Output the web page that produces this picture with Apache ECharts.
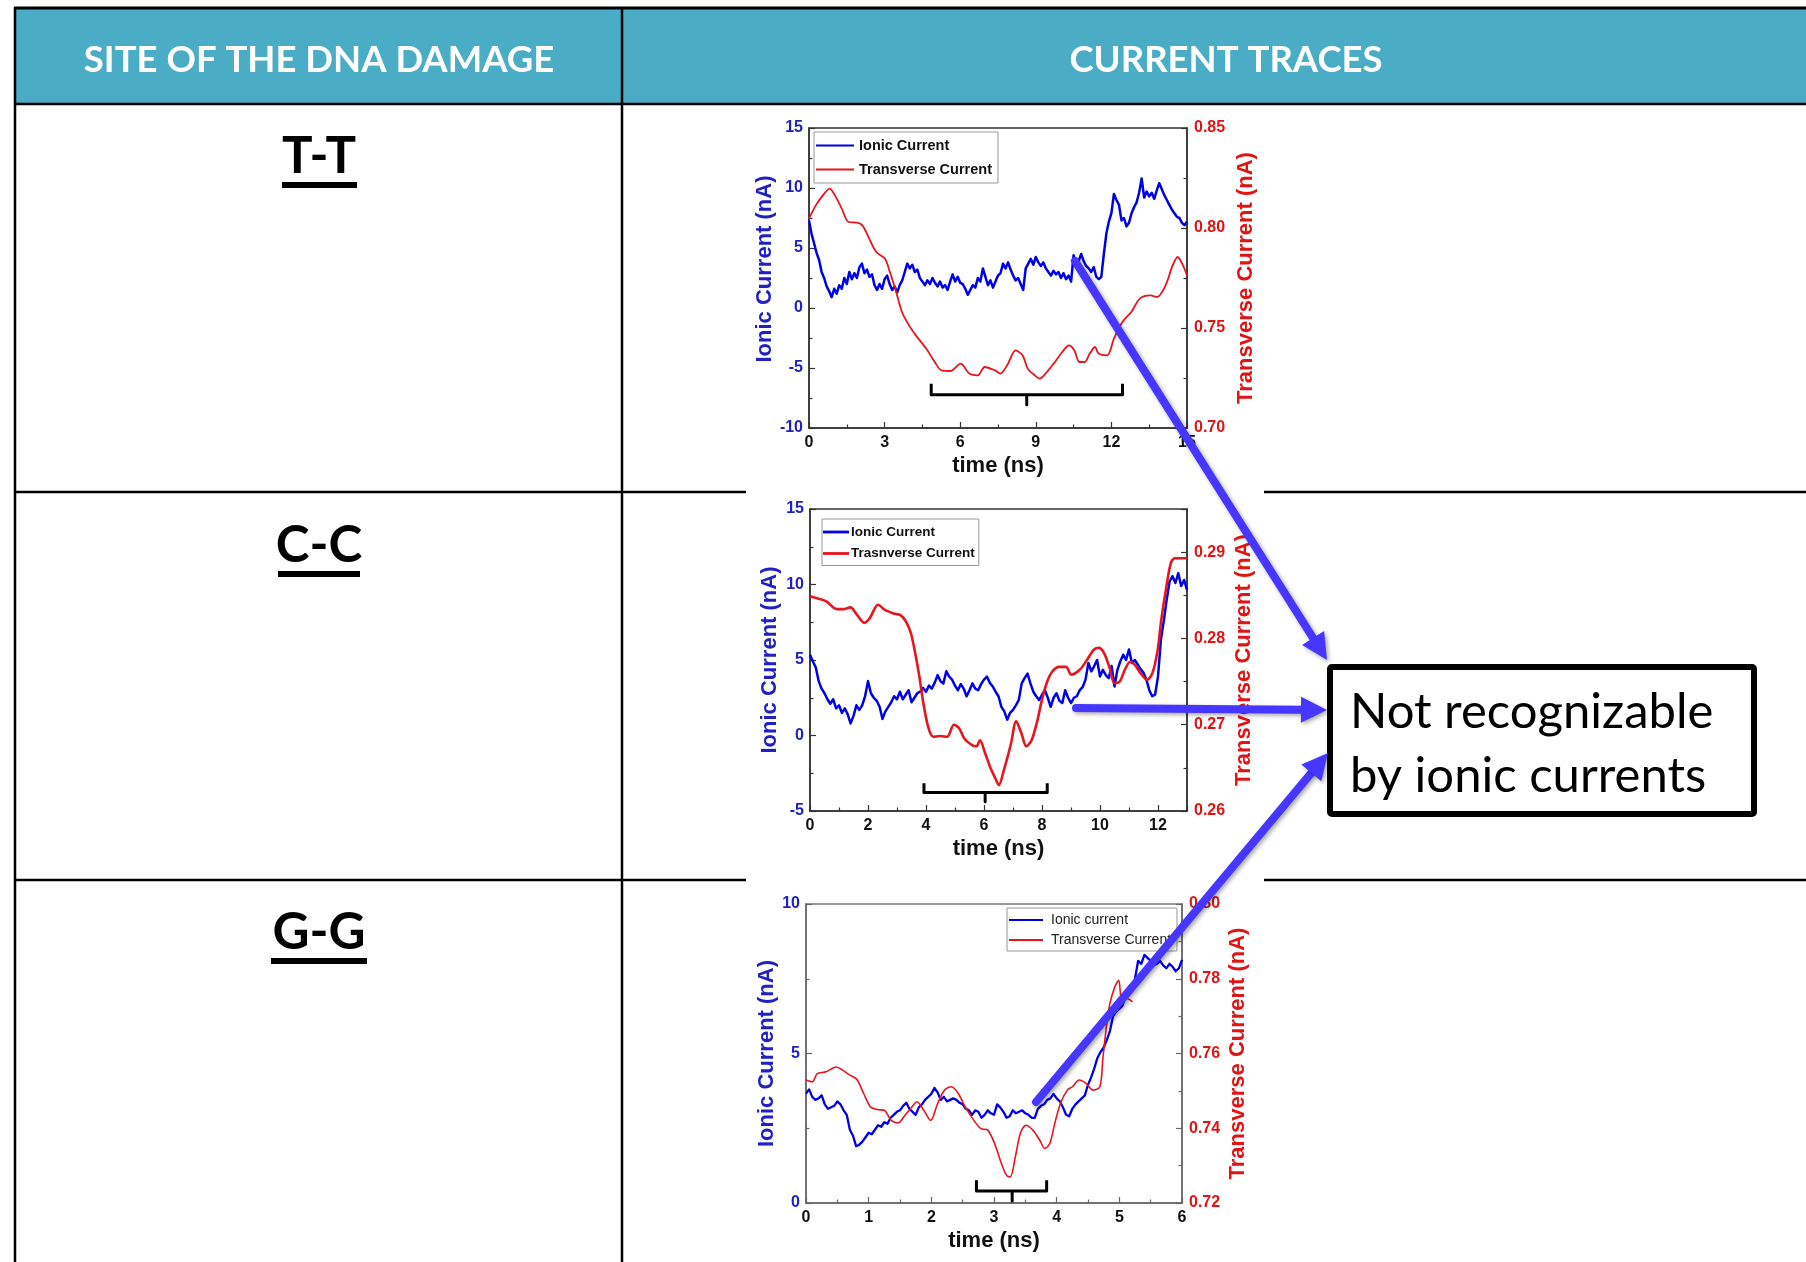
<!DOCTYPE html>
<html><head><meta charset="utf-8">
<script src="https://cdn.jsdelivr.net/npm/echarts@6/dist/echarts.min.js"></script>
<style>html,body{margin:0;padding:0;background:#fff}#c{width:1806px;height:1262px}</style>
</head><body><div id="c"></div>
<script>
// ---------- DATA ----------
const headers = ['SITE OF THE DNA DAMAGE', 'CURRENT TRACES'];
const sites = ['T-T', 'C-C', 'G-G'];
const boxLines = ['Not recognizable', 'by ionic currents'];

// T-T : ionic current every 0.1 ns (0..15)
const tt_ionicStep = 0.1;
const tt_ionic = [7.3,6.2,5.4,4.6,4.0,3.0,2.5,1.8,1.4,0.9, 1.6,1.2,1.9,1.6,2.5,2.0,3.0,2.4,2.9,2.5,
 3.4,3.7,2.9,3.2,2.6,2.8,1.9,1.5,2.0,1.6, 2.4,2.7,2.0,1.5,1.8,1.3,1.9,2.3,3.0,3.7,
 3.3,3.6,3.0,3.2,2.5,2.2,1.9,2.3,2.0,2.5, 2.1,1.8,2.2,1.7,1.9,1.5,2.2,2.8,2.2,2.6,
 2.1,2.0,1.6,1.1,1.5,1.9,1.7,2.5,2.2,3.3, 2.6,1.9,2.3,1.7,2.2,2.7,2.9,3.7,3.3,3.8,
 3.2,2.7,2.3,2.5,2.0,1.5,3.3,3.7,4.1,3.6, 4.25,3.8,3.5,3.8,3.3,3.0,2.7,3.1,2.8,3.0,
 2.5,2.9,2.4,2.7,2.2,4.4,3.6,3.9,4.5,3.9, 3.5,3.3,3.0,3.4,2.6,2.4,2.6,4.5,6.2,7.2,
 7.9,9.5,9.0,8.6,7.3,7.5,6.8,7.1,7.9,8.4, 8.8,9.6,10.8,9.2,9.7,9.3,9.6,9.1,9.8,10.4,
 9.9,9.4,9.0,8.6,8.2,7.9,7.6,7.5,7.1,6.9, 7.2];
const tt_transT = [0,0.27,0.55,0.82,1.03,1.30,1.57,1.91,2.12,2.39,2.67,3.01,3.21,3.42,3.69,3.97,4.24,4.65,4.99,5.26,
 5.61,6.02,6.36,6.70,6.97,7.38,7.59,7.86,8.20,8.48,8.68,8.96,9.16,9.44,9.71,10.05,10.32,10.53,10.73,10.94,
 11.14,11.35,11.49,11.83,12.10,12.44,12.79,13.13,13.54,13.81,14.15,14.43,14.63,14.84,15];
const tt_transV = [0.8047,0.8113,0.8163,0.8197,0.8163,0.8097,0.803,0.8027,0.8013,0.7947,0.788,0.7847,0.778,0.7697,0.758,
 0.7513,0.7463,0.7397,0.733,0.7288,0.7285,0.7322,0.7272,0.7263,0.7305,0.7288,0.7272,0.7313,0.7388,0.7363,
 0.7297,0.7263,0.7247,0.728,0.7322,0.738,0.7413,0.7388,0.733,0.733,0.7372,0.7405,0.7372,0.7363,0.7447,
 0.753,0.758,0.7647,0.7663,0.7655,0.7713,0.7813,0.7855,0.7813,0.7763];
const tt_xTicks = [0,3,6,9,12,15];
const tt_yLeftTicks = [-10,-5,0,5,10,15];
const tt_yRightTicks = [0.70,0.75,0.80,0.85];
const tt_bracketX = [4.85, 8.64, 12.44];
const tt_bracketY = [-6.31, -7.22, -8.06];

// C-C : ionic current every 0.1 ns (0..13)
const cc_ionicStep = 0.1;
const cc_ionic = [5.35,4.9,4.5,3.6,3.1,2.8,2.4,2.1,2.4,1.8, 2.0,1.5,1.8,1.4,0.8,1.3,2.0,1.7,2.0,2.6,
 3.6,2.8,2.5,2.3,1.9,1.1,1.6,1.9,2.2,2.6, 2.4,2.9,2.4,2.7,3.0,2.2,2.5,2.8,2.9,3.15,
 2.9,3.3,3.1,3.5,4.0,3.6,3.45,4.25,3.9,3.7, 3.3,3.0,3.4,3.1,2.6,3.0,3.45,3.1,3.0,3.4,
 3.7,3.9,3.5,3.25,2.9,2.6,1.9,1.6,1.05,1.5, 1.7,2.0,2.35,3.45,3.8,4.1,3.45,2.9,2.6,2.35,
 2.7,3.0,2.5,1.9,2.5,2.8,2.3,2.15,3.0,2.5, 2.15,2.5,2.6,3.0,3.2,3.7,4.8,4.25,4.6,5.0,
 3.9,4.35,4.0,3.8,4.6,3.25,4.35,4.9,5.35,5.0, 5.7,4.8,5.0,4.7,4.4,4.15,3.7,3.0,2.6,2.7,
 3.9,6.35,7.6,9.0,10.2,10.55,10.1,10.75,9.9,10.3, 9.65];
const cc_transT = [0,0.20,0.56,0.92,1.15,1.39,1.63,1.87,2.05,2.35,2.58,2.88,3.12,3.30,3.48,3.65,3.77,3.89,4.07,4.25,
 4.49,4.73,4.96,5.14,5.32,5.56,5.74,5.86,6.04,6.21,6.39,6.51,6.69,6.93,7.11,7.29,7.46,7.64,7.82,8.0,
 8.18,8.36,8.6,8.83,9.01,9.31,9.55,9.79,9.96,10.14,10.32,10.5,10.68,10.86,11.04,11.21,11.39,11.63,11.81,11.99,
 12.11,12.29,12.44,12.58,12.82,13.0];
const cc_transV = [0.2849,0.2847,0.2843,0.2834,0.2834,0.2836,0.2827,0.2818,0.2823,0.2839,0.2833,0.2829,0.2827,0.2820,0.2806,
 0.2779,0.2756,0.2729,0.2698,0.2686,0.2687,0.2686,0.2700,0.2696,0.2684,0.2677,0.2675,0.2682,0.2667,0.2651,
 0.2638,0.2630,0.2648,0.2678,0.2704,0.2690,0.2675,0.2682,0.2702,0.2729,0.2750,0.2762,0.2767,0.2767,0.2758,
 0.2764,0.2775,0.2787,0.2789,0.2783,0.2767,0.2748,0.2750,0.2764,0.2773,0.2769,0.2760,0.2752,0.2760,0.2787,
 0.2821,0.2860,0.2887,0.2893,0.2893,0.2893];
const cc_xTicks = [0,2,4,6,8,10,12];
const cc_xMax = 13;
const cc_yLeftTicks = [-5,0,5,10,15];
const cc_yRightTicks = [0.26,0.27,0.28,0.29];
const cc_yRightMax = 0.295;
const cc_bracketX = [3.93, 6.04, 8.18];
const cc_bracketY = [-3.16, -3.78, -4.38];

// G-G : ionic current every 0.05 ns (0..6)
const gg_ionicStep = 0.05;
const gg_ionic = [3.66,3.8,3.55,3.45,3.5,3.6,3.3,3.15,3.2,3.25, 3.4,3.3,3.1,2.95,2.45,2.25,1.9,1.95,2.05,2.2,
 2.35,2.3,2.45,2.6,2.55,2.7,2.65,2.85,2.95,3.05, 3.1,3.25,3.35,3.15,3.05,2.95,3.2,3.3,3.45,3.55,
 3.65,3.85,3.7,3.45,3.55,3.4,3.45,3.5,3.45,3.35, 3.3,3.15,3.1,2.95,3.1,3.05,2.85,2.95,3.1,3.0,
 2.95,3.3,3.2,3.05,2.85,2.9,3.1,3.0,3.05,3.1, 3.0,2.95,2.85,2.85,3.15,3.25,3.3,3.45,3.5,3.65,
 3.5,3.4,3.2,2.95,2.9,3.15,3.3,3.4,3.5,3.6, 3.95,4.2,4.5,4.85,5.05,5.2,5.45,5.75,6.25,6.4,
 6.5,6.6,6.9,6.95,7.1,7.5,8.1,8.0,8.3,8.2, 8.1,7.95,8.0,8.1,7.95,7.85,8.0,7.9,7.75,7.85, 8.13];
const gg_transT = [0,0.10,0.18,0.32,0.48,0.59,0.70,0.81,0.92,1.03,1.14,1.25,1.36,1.47,1.58,1.69,1.77,1.88,1.99,2.10,
 2.21,2.32,2.43,2.54,2.68,2.79,2.90,3.01,3.12,3.20,3.26,3.34,3.42,3.51,3.62,3.73,3.81,3.89,3.97,4.06,
 4.17,4.25,4.36,4.47,4.58,4.69,4.74,4.80,4.85,4.93,4.99,5.04,5.12,5.21];
const gg_transV = [0.7529,0.7524,0.7546,0.7551,0.7564,0.7555,0.7542,0.7531,0.7493,0.7457,0.7450,0.7448,0.7421,0.7414,0.7435,
 0.7457,0.7471,0.7448,0.7421,0.7466,0.7502,0.7511,0.7493,0.7457,0.7421,0.7399,0.7395,0.7359,0.7305,0.7274,
 0.7270,0.7323,0.7386,0.7408,0.7395,0.7368,0.7346,0.7359,0.7413,0.7466,0.7502,0.7511,0.7529,0.7520,0.7502,
 0.7511,0.7591,0.7680,0.7734,0.7779,0.7796,0.7743,0.7747,0.7738];
const gg_xTicks = [0,1,2,3,4,5,6];
const gg_yLeftTicks = [0,5,10];
const gg_yRightTicks = [0.72,0.74,0.76,0.78,0.80];
const gg_bracketX = [2.72, 3.29, 3.84];
const gg_bracketY = [0.76, 0.40, 0.07];

// ---------- BUILD ----------
const FONT = '"Liberation Sans", Arial, sans-serif';
const BLUE = '#0000e6', RED = '#e8141e', BLUE_T = '#2020c4', RED_T = '#e01414', ARROW = '#4636ff';
const stepPairs = (step, vals) => vals.map((v, i) => [+(i * step).toFixed(3), v]);
const zip = (ts, vs) => ts.map((t, i) => [t, vs[i]]);
const bracket = (xs, ys) => [[xs[0],ys[0]],[xs[0],ys[1]],[xs[1],ys[1]],[xs[1],ys[2]],[xs[1],ys[1]],[xs[2],ys[1]],[xs[2],ys[0]]];
const iv = t => +(t[1] - t[0]).toFixed(6);

const tickCommon = (color) => ({
  axisLine: {show: true, onZero: false, lineStyle: {color: color, width: 1.5}},
  axisTick: {show: true, inside: true, length: 6, lineStyle: {color: color, width: 1.2}},
  minorTick: {show: true, splitNumber: 2, length: 3.5, lineStyle: {color: color, width: 1.2}},
  splitLine: {show: false}, minorSplitLine: {show: false}
});
function mkX(gi, ticks, max, showMax, frame) {
  return Object.assign({type: 'value', gridIndex: gi, min: ticks[0], max: max, interval: iv(ticks),
    name: 'time (ns)', nameLocation: 'middle', nameGap: 27,
    nameTextStyle: {fontFamily: FONT, fontWeight: 'bold', fontSize: 22, color: '#111'},
    axisLabel: {fontFamily: FONT, fontWeight: 'bold', fontSize: 16, color: '#111', margin: 7, showMaxLabel: showMax, showMinLabel: true}
  }, tickCommon(frame));
}
function mkYL(gi, ticks, gap, frame, shift) {
  return Object.assign({type: 'value', gridIndex: gi, position: 'left', min: ticks[0], max: ticks[ticks.length-1], interval: iv(ticks),
    name: 'Ionic Current (nA)', nameLocation: 'middle', nameGap: gap,
    nameTextStyle: {fontFamily: FONT, fontWeight: 'bold', fontSize: 22, color: BLUE_T, padding: [0, 0, 0, shift || 0]},
    axisLabel: {fontFamily: FONT, fontWeight: 'bold', fontSize: 16, color: BLUE_T, margin: 6}
  }, tickCommon(frame));
}
function mkYR(gi, ticks, max, showMax, gap, frame) {
  return Object.assign({type: 'value', gridIndex: gi, position: 'right', min: ticks[0], max: max, interval: iv(ticks),
    name: 'Transverse Current (nA)', nameLocation: 'middle', nameGap: gap,
    nameTextStyle: {fontFamily: FONT, fontWeight: 'bold', fontSize: 22, color: RED_T},
    axisLabel: {fontFamily: FONT, fontWeight: 'bold', fontSize: 16, color: RED_T, margin: 7, showMaxLabel: showMax,
      formatter: v => v.toFixed(2)}
  }, tickCommon(frame));
}
function lineS(name, data, xi, yi, color, w) {
  return {type: 'line', name: name, data: data, xAxisIndex: xi, yAxisIndex: yi, symbol: 'none', showSymbol: false,
    lineStyle: {color: color, width: w, join: 'round'}, itemStyle: {color: color}, animation: false, z: 3};
}
function brS(data, xi, yi) {
  return {type: 'line', data: data, xAxisIndex: xi, yAxisIndex: yi, symbol: 'none', silent: true,
    lineStyle: {color: '#000', width: 3, join: 'round'}, animation: false, z: 4};
}

const gridBase = {show: true, backgroundColor: '#fff', borderWidth: 1.5, outerBoundsMode: 'none', containLabel: false};
const grids = [
  Object.assign({left: 809, top: 128, width: 378, height: 300}, gridBase, {borderColor: '#333'}),
  Object.assign({left: 810, top: 509, width: 377, height: 302}, gridBase, {borderColor: '#333'}),
  Object.assign({left: 806, top: 904, width: 376, height: 299}, gridBase, {borderColor: '#777'})
];

const xAxes = [mkX(0, tt_xTicks, tt_xTicks[tt_xTicks.length-1], true, '#333'),
               mkX(1, cc_xTicks, cc_xMax, false, '#333'),
               mkX(2, gg_xTicks, gg_xTicks[gg_xTicks.length-1], true, '#666')];
const yAxes = [mkYL(0, tt_yLeftTicks, 29, '#333', 18), mkYR(0, tt_yRightTicks, tt_yRightTicks[tt_yRightTicks.length-1], true, 48, '#333'),
               mkYL(1, cc_yLeftTicks, 29, '#333', 0), mkYR(1, cc_yRightTicks, cc_yRightMax, false, 46, '#333'),
               mkYL(2, gg_yLeftTicks, 26, '#666', 0), mkYR(2, gg_yRightTicks, gg_yRightTicks[gg_yRightTicks.length-1], true, 45, '#666')];

const series = [
  lineS('Ionic Current', stepPairs(tt_ionicStep, tt_ionic), 0, 0, BLUE, 2.5),
  lineS('Transverse Current', zip(tt_transT, tt_transV), 0, 1, RED, 1.8),
  brS(bracket(tt_bracketX, tt_bracketY), 0, 0),
  lineS('Ionic Current', stepPairs(cc_ionicStep, cc_ionic), 1, 2, BLUE, 2.5),
  lineS('Trasnverse Current', zip(cc_transT, cc_transV), 1, 3, RED, 2.6),
  brS(bracket(cc_bracketX, cc_bracketY), 1, 2),
  lineS('Ionic current', stepPairs(gg_ionicStep, gg_ionic), 2, 4, BLUE, 2.3),
  lineS('Transverse Current ', zip(gg_transT, gg_transV), 2, 5, RED, 1.6),
  brS(bracket(gg_bracketX, gg_bracketY), 2, 4)
];
series[1].smooth = 0.3; series[4].smooth = 0.3; series[7].smooth = 0.3;

const legends = [
  {left: 814, top: 132, orient: 'vertical', data: ['Ionic Current', 'Transverse Current'], icon: 'rect', itemWidth: 38, itemHeight: 2.2, itemGap: 9,
   padding: [6, 6, 6, 2], borderColor: '#999', borderWidth: 1, backgroundColor: '#fff', selectedMode: false,
   textStyle: {fontFamily: FONT, fontWeight: 'bold', fontSize: 14.5, lineHeight: 14, color: '#111'}},
  {left: 822, top: 519, orient: 'vertical', data: ['Ionic Current', 'Trasnverse Current'], icon: 'rect', itemWidth: 26, itemHeight: 2.8, itemGap: 7.5,
   padding: [6, 4, 5, 1], borderColor: '#999', borderWidth: 1, backgroundColor: '#fff', selectedMode: false,
   textStyle: {fontFamily: FONT, fontWeight: 'bold', fontSize: 13.5, lineHeight: 13, color: '#111', padding: [0, 0, 0, -3]}},
  {left: 1007, top: 908, orient: 'vertical', data: ['Ionic current', 'Transverse Current '], icon: 'rect', itemWidth: 34, itemHeight: 1.8, itemGap: 6,
   padding: [5, 2, 4, 2], borderColor: '#999', borderWidth: 1, backgroundColor: '#fff', selectedMode: false,
   textStyle: {fontFamily: FONT, fontSize: 14, lineHeight: 12, color: '#222', padding: [0, 0, 0, 3]}}
];

// ---------- TABLE / ANNOTATIONS ----------
const g = [];
const L = (x1, y1, x2, y2, w) => g.push({type: 'line', z: 1, silent: true, shape: {x1, y1, x2, y2}, style: {stroke: '#000', lineWidth: w || 2.5}});
g.push({type: 'rect', z: 0, silent: true, shape: {x: 15, y: 8, width: 1800, height: 96}, style: {fill: '#4BACC6'}});
L(14, 8, 1806, 8, 3); L(14, 104, 1806, 104, 2.5); L(15, 7, 15, 1262); L(622, 7, 622, 1262);
L(14, 492, 746, 492); L(1264, 492, 1806, 492); L(14, 880, 746, 880); L(1264, 880, 1806, 880);
const hdrFont = 'bold 36.5px Lato, "Open Sans", sans-serif';
g.push({type: 'text', z: 2, silent: true, style: {text: headers[0], x: 319, y: 60, font: hdrFont, fill: '#fff', textAlign: 'center', textVerticalAlign: 'middle'}});
g.push({type: 'text', z: 2, silent: true, style: {text: headers[1], x: 1226, y: 60, font: hdrFont, fill: '#fff', textAlign: 'center', textVerticalAlign: 'middle'}});
const siteY = [157, 546, 933], ulY = [182, 571, 958], ulX = [[282, 357], [278, 360], [271, 367]];
sites.forEach((s, i) => {
  g.push({type: 'text', z: 2, silent: true, style: {text: s, x: 319, y: siteY[i], font: 'bold 51px Lato, sans-serif', fill: '#000', textAlign: 'center', textVerticalAlign: 'middle'}});
  g.push({type: 'rect', z: 2, silent: true, shape: {x: ulX[i][0], y: ulY[i], width: ulX[i][1] - ulX[i][0], height: 6}, style: {fill: '#000'}});
});
// note box
g.push({type: 'rect', z: 50, silent: true, shape: {x: 1330, y: 667, width: 424, height: 147, r: 2}, style: {fill: '#fff', stroke: '#000', lineWidth: 6}});
g.push({type: 'text', z: 51, silent: true, style: {text: boxLines[0], x: 1350, y: 712, font: '49px Lato, sans-serif', fill: '#000', textAlign: 'left', textVerticalAlign: 'middle'}});
g.push({type: 'text', z: 51, silent: true, style: {text: boxLines[1], x: 1350, y: 776, font: '49px Lato, sans-serif', fill: '#000', textAlign: 'left', textVerticalAlign: 'middle'}});
// arrows
function arrow(x1, y1, x2, y2) {
  const dx = x2 - x1, dy = y2 - y1, len = Math.hypot(dx, dy), ux = dx / len, uy = dy / len, hl = 26, hw = 13;
  const bx = x2 - ux * hl, by = y2 - uy * hl;
  const sh = {shadowBlur: 4, shadowColor: 'rgba(0,0,0,0.35)', shadowOffsetX: 2, shadowOffsetY: 2};
  g.push({type: 'line', z: 100, silent: true, shape: {x1, y1, x2: bx + ux * 3, y2: by + uy * 3}, style: Object.assign({stroke: ARROW, lineWidth: 8, lineCap: 'round'}, sh)});
  g.push({type: 'polygon', z: 100, silent: true, shape: {points: [[x2, y2], [bx - uy * hw, by + ux * hw], [bx + uy * hw, by - ux * hw]]}, style: Object.assign({fill: ARROW}, sh)});
}
arrow(1075, 261, 1327, 660);
arrow(1076, 708, 1327, 710);
arrow(1036, 1102, 1328, 753);

const chart = echarts.init(document.getElementById('c'), null, {renderer: 'canvas'});
chart.setOption({
  animation: false, backgroundColor: '#fff',
  grid: grids, xAxis: xAxes, yAxis: yAxes, series: series, legend: legends, graphic: {elements: g}
});
</script></body></html>
